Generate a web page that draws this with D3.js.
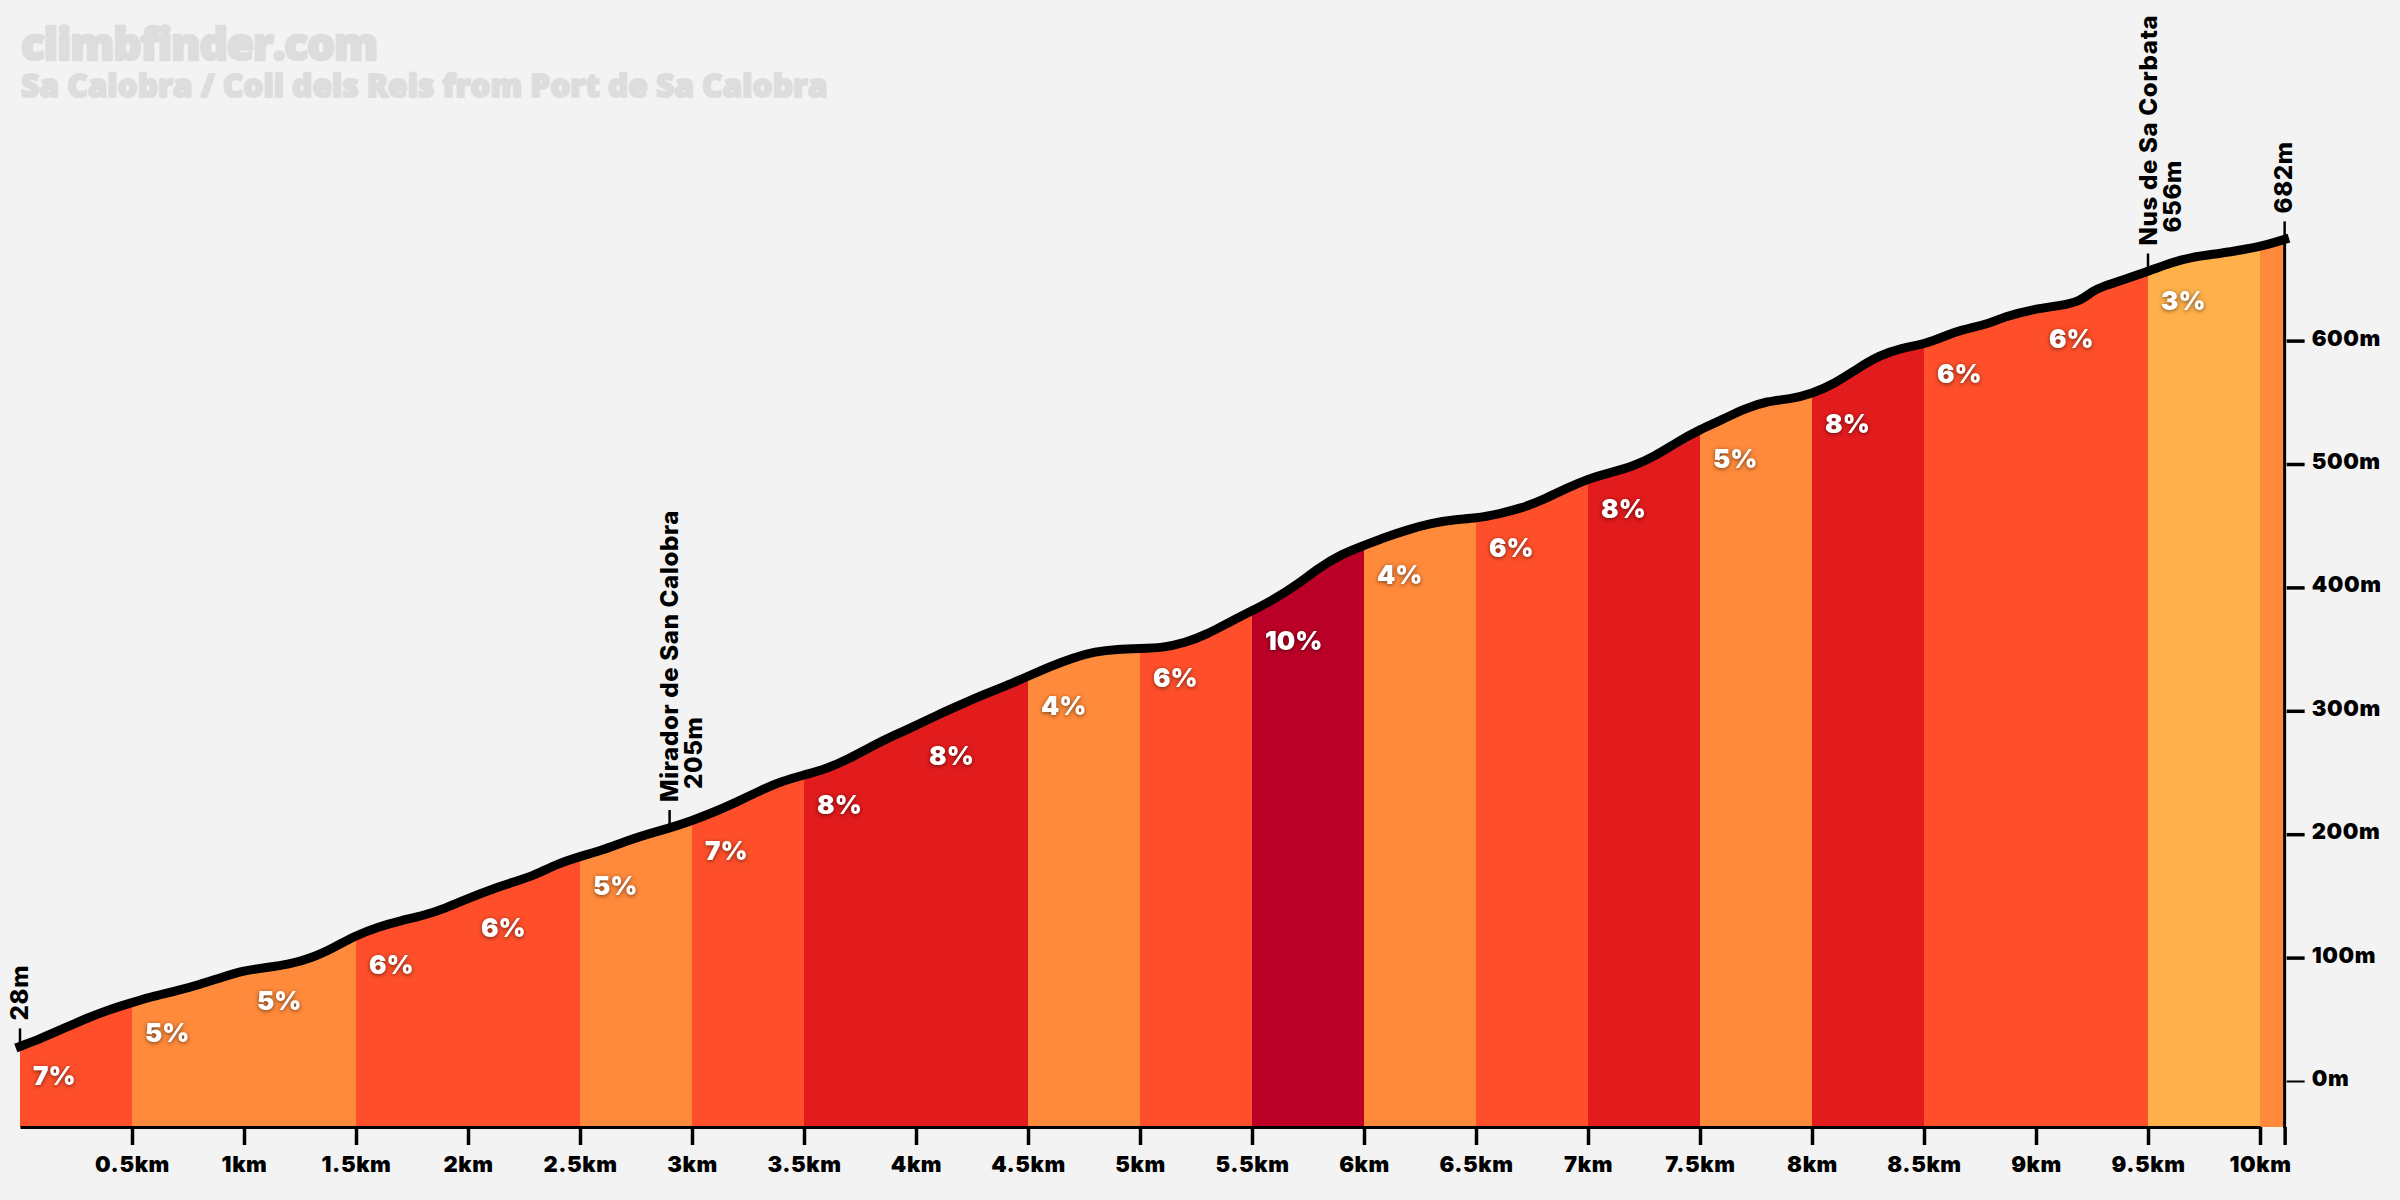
<!DOCTYPE html>
<html>
<head>
<meta charset="utf-8">
<script src="https://cdn.jsdelivr.net/npm/d3@7"></script>
<style>
    html, body { margin: 0; padding: 0; background: #f3f3f3; }
    svg { display: block; }
    text { font-family: "Inter", "DejaVu Sans", sans-serif; }
    .title { font-family: "Open Sans", sans-serif; font-weight: 800; fill: #dddddd; stroke: #dddddd; stroke-linejoin: round; }
    .axis text { font-size: 22px; font-weight: 900; fill: #000; letter-spacing: 0.6px; }
    .axis path, .axis line { stroke: #000; }
    .grade { font-size: 26px; font-weight: 900; fill: #fff; filter: drop-shadow(0 1px 2px rgba(0,0,0,0.55)); }
    .marker text { font-size: 24px; font-weight: 800; fill: #000; letter-spacing: 0.7px; }
</style>
</head>
<body>
<script>
/****** DATA ******/

var km = [0, 0.1, 0.2, 0.3, 0.4, 0.5, 0.6, 0.7, 0.8, 0.9,
    1, 1.1, 1.2, 1.3, 1.4, 1.5, 1.6, 1.7, 1.8, 1.9,
    2, 2.1, 2.2, 2.3, 2.4, 2.5, 2.6, 2.7, 2.8, 2.9,
    3, 3.1, 3.2, 3.3, 3.4, 3.5, 3.6, 3.7, 3.8, 3.9,
    4, 4.1, 4.2, 4.3, 4.4, 4.5, 4.6, 4.7, 4.8, 4.9,
    5, 5.1, 5.2, 5.3, 5.4, 5.5, 5.6, 5.7, 5.8, 5.9,
    6, 6.1, 6.2, 6.3, 6.4, 6.5, 6.6, 6.7, 6.8, 6.9,
    7, 7.1, 7.2, 7.3, 7.4, 7.5, 7.6, 7.7, 7.8, 7.9,
    8, 8.1, 8.2, 8.3, 8.4, 8.5, 8.6, 8.65, 8.8, 8.85,
    9, 9.1, 9.2, 9.25, 9.3, 9.4, 9.5, 9.6, 9.7, 9.8,
    9.9, 10, 10.11];

var elevation = [28, 35, 43, 51, 58, 63.5, 69, 73, 78, 84,
    89.5, 92, 94.5, 99.5, 108, 118, 125, 130, 134, 140,
    148, 155, 161, 167, 176, 182, 187, 194, 200, 205,
    211, 218, 226, 235, 243, 248, 253, 261, 271, 280,
    288, 297, 305, 313, 320, 328, 336, 343, 348, 350,
    350.5, 351, 355, 362, 372, 381, 390.5, 402, 416, 427,
    434, 441, 447, 452, 455, 456, 459.5, 464, 471, 480,
    488, 493, 498, 506.5, 518, 528, 536, 545, 551, 552.5,
    557, 565, 577, 588, 594, 597, 604, 608, 614, 619,
    626, 628, 632, 640, 644, 650, 656, 663, 668, 670,
    673, 676, 682];

var segmentStart = [0, 0.5, 1, 1.5, 2, 2.5, 3, 3.5, 4, 4.5, 5, 5.5, 6, 6.5, 7, 7.5, 8, 8.5, 9, 9.5, 10];
var segmentEnd = [0.5, 1, 1.5, 2, 2.5, 3, 3.5, 4, 4.5, 5, 5.5, 6, 6.5, 7, 7.5, 8, 8.5, 9, 9.5, 10, 10.11];
var segmentGrade = [7, 5, 5, 6, 6, 5, 7, 8, 8, 4, 6, 10, 4, 6, 8, 5, 8, 6, 6, 3, 5];

var gradeColor = { 3: "#ffb04a", 4: "#ff8a3b", 5: "#ff8a3b", 6: "#fe4f2a", 7: "#fe4f2a", 8: "#e21b1d", 10: "#ba0026" };

var kmTicks = [0.5, 1, 1.5, 2, 2.5, 3, 3.5, 4, 4.5, 5, 5.5, 6, 6.5, 7, 7.5, 8, 8.5, 9, 9.5, 10, 10.11];
var metreTicks = [0, 100, 200, 300, 400, 500, 600];

var markerKm = [0, 2.9, 9.5, 10.11];
var markerElevation = [28, 205, 656, 682];
var markerName = ["", "Mirador de San Calobra", "Nus de Sa Corbata", ""];

/****** SETUP ******/

var WIDTH = 2400, HEIGHT = 1200;
var BOTTOM = 1127;

var x = d3.scaleLinear().domain([0, 10]).range([20, 2260]);
var y = d3.scaleLinear().domain([0, 600]).range([1081, 340.6]);

var points = km.map(function(k, i) { return { km: k, ele: elevation[i] }; });

var svg = d3.select("body").append("svg")
    .attr("width", WIDTH)
    .attr("height", HEIGHT);

svg.append("rect").attr("width", WIDTH).attr("height", HEIGHT).attr("fill", "#f3f3f3");

/****** TITLES ******/

svg.append("text").attr("class", "title").attr("x", 21).attr("y", 60)
    .attr("font-size", 44).attr("letter-spacing", -1).attr("stroke-width", 2.5).text("climbfinder.com");
svg.append("text").attr("class", "title").attr("x", 21).attr("y", 97)
    .attr("font-size", 31.6).attr("stroke-width", 2).text("Sa Calobra / Coll dels Reis from Port de Sa Calobra");

/****** PROFILE ******/

var area = d3.area()
    .x(function(d) { return x(d.km); })
    .y0(BOTTOM)
    .y1(function(d) { return y(d.ele); })
    .curve(d3.curveBasis);

var line = d3.line()
    .x(function(d) { return x(d.km); })
    .y(function(d) { return y(d.ele); })
    .curve(d3.curveBasis);

svg.append("clipPath").attr("id", "profile-clip")
    .append("path").attr("d", area(points));

var segments = segmentStart.map(function(s, i) {
    return { start: s, end: segmentEnd[i], grade: segmentGrade[i] };
});

svg.append("g").attr("clip-path", "url(#profile-clip)")
    .selectAll("rect").data(segments).enter().append("rect")
    .attr("x", function(d) { return x(d.start); })
    .attr("width", function(d) { return x(d.end) - x(d.start); })
    .attr("y", y(700))
    .attr("height", BOTTOM - y(700))
    .attr("fill", function(d) { return gradeColor[d.grade]; });

svg.append("path")
    .attr("d", line(points))
    .attr("fill", "none")
    .attr("stroke", "#000")
    .attr("stroke-width", 9)
    .attr("stroke-linecap", "square")
    .attr("stroke-linejoin", "round");

// grade labels hang under the profile at the start of each segment
svg.append("g").selectAll("text")
    .data(segments.filter(function(d) { return d.end - d.start >= 0.5; }))
    .enter().append("text")
    .attr("class", "grade")
    .attr("x", function(d) { return x(d.start) + 13; })
    .attr("y", function(d) {
        var i = km.indexOf(d.start);
        return y(elevation[i]) + 39;
    })
    .text(function(d) { return d.grade + "%"; });

/****** AXES ******/

var xAxis = d3.axisBottom(x)
    .tickValues(kmTicks)
    .tickSize(18)
    .tickSizeOuter(0)
    .tickPadding(11)
    .tickFormat(function(d) { return d > 10 ? "" : d + "km"; });

var xg = svg.append("g").attr("class", "axis")
    .attr("transform", "translate(0," + BOTTOM + ")")
    .call(xAxis);
xg.select(".domain").attr("stroke-width", 3);
xg.selectAll(".tick line").attr("stroke-width", 3.5);

var yAxis = d3.axisRight(y)
    .tickValues(metreTicks)
    .tickSize(18)
    .tickSizeOuter(0)
    .tickPadding(7)
    .tickFormat(function(d) { return d + "m"; });

var yg = svg.append("g").attr("class", "axis")
    .attr("transform", "translate(" + (x(10.11) + 2) + ",0)")
    .call(yAxis);
yg.select(".domain").remove();
yg.selectAll(".tick line")
    .attr("stroke", function(d) { return d === 0 ? "#bbbbbb" : "#000"; })
    .attr("stroke-width", function(d) { return d === 0 ? 2 : 3.5; });
yg.selectAll(".tick text").attr("dy", "0.2em");

svg.append("line")
    .attr("x1", x(10.11)).attr("x2", x(10.11))
    .attr("y1", y(682)).attr("y2", BOTTOM + 1)
    .attr("stroke", "#000").attr("stroke-width", 3);

/****** MARKERS ******/

var markers = markerKm.map(function(k, i) {
    return { km: k, ele: markerElevation[i], name: markerName[i] };
});

var mg = svg.append("g").attr("class", "marker").selectAll("g")
    .data(markers).enter().append("g")
    .attr("transform", function(d) { return "translate(" + x(d.km) + "," + (y(d.ele) - 18) + ")"; });

mg.append("line")
    .attr("y2", 18)
    .attr("stroke", "#000")
    .attr("stroke-width", 2.5);

mg.append("text")
    .attr("transform", function(d) { return "translate(" + (d.name ? 0 : -1) + ",-8) rotate(-90)"; })
    .attr("dy", "0.36em")
    .text(function(d) { return d.name || d.ele + "m"; });

mg.filter(function(d) { return d.name; }).append("text")
    .attr("transform", "translate(24,-21) rotate(-90)")
    .attr("dy", "0.36em")
    .text(function(d) { return d.ele + "m"; });
</script>
</body>
</html>
